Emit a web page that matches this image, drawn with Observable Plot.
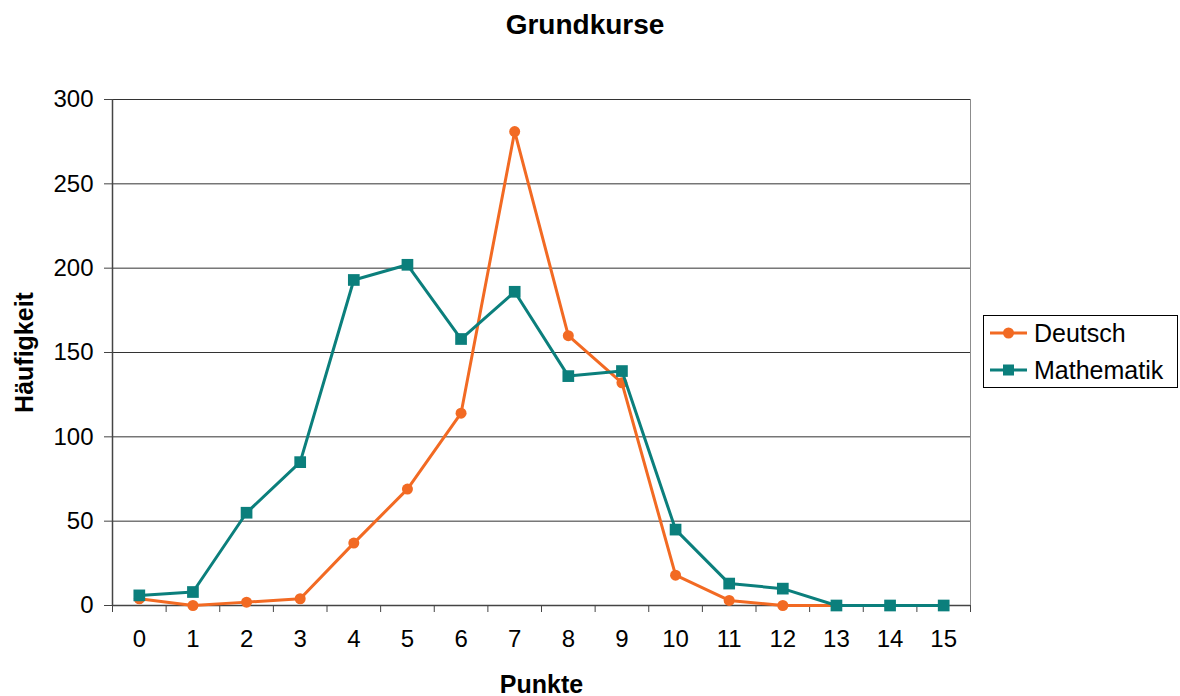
<!DOCTYPE html>
<html>
<head>
<meta charset="utf-8">
<script src="https://cdn.jsdelivr.net/npm/d3@7"></script>
<script src="https://cdn.jsdelivr.net/npm/@observablehq/plot@0.6"></script>
<style>
  html, body { margin: 0; padding: 0; background: #fff; }
  body { font-family: "Liberation Sans", Arial, sans-serif; }
  #wrap { position: relative; width: 1180px; height: 696px; }
  #title { width: 1170px; height: 50px; line-height: 50px; text-align: center; font-weight: bold; font-size: 28px; color: #000; }
  #legend { position: absolute; left: 983px; top: 315px; }
</style>
</head>
<body>
<div id="wrap">
  <div id="title"></div>
  <div id="chart"></div>
  <div id="legend"></div>
</div>
<script>
const titleText = "Grundkurse";
const xLabel = "Punkte";
const yLabel = "Häufigkeit";
const punkte = [0, 1, 2, 3, 4, 5, 6, 7, 8, 9, 10, 11, 12, 13, 14, 15];
const deutsch = [4, 0, 2, 4, 37, 69, 114, 281, 160, 132, 18, 3, 0, 0, 0, 0];
const mathematik = [6, 8, 55, 85, 193, 202, 158, 186, 136, 139, 45, 13, 10, 0, 0, 0];
const yTicks = [0, 50, 100, 150, 200, 250, 300];
const seriesNames = ["Deutsch", "Mathematik"];
const seriesColors = ["#f26a23", "#0b7f7c"];

document.getElementById("title").textContent = titleText;

const dataD = punkte.map((p, i) => ({p, v: deutsch[i]}));
const dataM = punkte.map((p, i) => ({p, v: mathematik[i]}));
const boundaries = punkte.map(p => p - 0.5).concat([punkte[punkte.length - 1] + 0.5]);

const chart = Plot.plot({
  width: 1180,
  height: 646,
  marginTop: 49,
  marginBottom: 91,
  marginLeft: 112,
  marginRight: 210,
  style: {fontFamily: "'Liberation Sans', Arial, sans-serif", fontSize: "24px", color: "#000", background: "#fff"},
  x: {domain: [boundaries[0], boundaries[boundaries.length - 1]]},
  y: {domain: [0, 300]},
  marks: [
    Plot.frame({stroke: "#8c8c8c"}),
    Plot.gridY({ticks: yTicks, stroke: "#333", strokeOpacity: 1}),
    Plot.axisY({ticks: yTicks, tickSize: 8, tickPadding: 11, fontSize: 24, label: null, stroke: "#444"}),
    Plot.axisX({ticks: punkte, tickSize: 0, tickPadding: 24, fontSize: 24, label: null}),
    Plot.axisX({ticks: boundaries, tickSize: 7, tickFormat: () => "", label: null, stroke: "#444"}),
    Plot.ruleX([boundaries[0]], {stroke: "#444", strokeWidth: 1.5}),
    Plot.ruleY([0], {stroke: "#444", strokeWidth: 1.5}),
    Plot.line(dataD, {x: "p", y: "v", stroke: seriesColors[0], strokeWidth: 3, strokeLinejoin: "round"}),
    Plot.dot(dataD, {x: "p", y: "v", fill: seriesColors[0], r: 5.5, symbol: "circle"}),
    Plot.line(dataM, {x: "p", y: "v", stroke: seriesColors[1], strokeWidth: 3, strokeLinejoin: "round"}),
    Plot.dot(dataM, {x: "p", y: "v", fill: seriesColors[1], r: 6.6, symbol: "square"}),
    Plot.text([yLabel], {text: d => d, frameAnchor: "left", textAnchor: "middle", lineAnchor: "middle", dx: -88, rotate: -90, fontWeight: "bold", fontSize: 25, fill: "#000"}),
    Plot.text([xLabel], {text: d => d, frameAnchor: "bottom", textAnchor: "middle", lineAnchor: "middle", dy: 79, fontWeight: "bold", fontSize: 25, fill: "#000"})
  ]
});
document.getElementById("chart").appendChild(chart);

// Legend
const lw = 195, lh = 73;
const svg = d3.select("#legend").append("svg").attr("width", lw).attr("height", lh);
svg.append("rect").attr("x", 0.5).attr("y", 0.5).attr("width", lw - 1).attr("height", lh - 1)
  .attr("fill", "#fff").attr("stroke", "#000").attr("stroke-width", 1);
seriesNames.forEach((name, i) => {
  const cy = 18 + i * 37;
  const g = svg.append("g").attr("transform", `translate(0,${cy})`);
  g.append("line").attr("x1", 7).attr("x2", 44).attr("y1", 0).attr("y2", 0)
    .attr("stroke", seriesColors[i]).attr("stroke-width", 3);
  if (i === 0) g.append("circle").attr("cx", 25.5).attr("cy", 0).attr("r", 5.5).attr("fill", seriesColors[i]);
  else g.append("rect").attr("x", 20).attr("y", -5.5).attr("width", 11).attr("height", 11).attr("fill", seriesColors[i]);
  g.append("text").attr("x", 51).attr("y", 0).attr("dy", "0.35em")
    .attr("font-family", "'Liberation Sans', Arial, sans-serif").attr("font-size", 25).attr("fill", "#000").text(name);
});
</script>
</body>
</html>
